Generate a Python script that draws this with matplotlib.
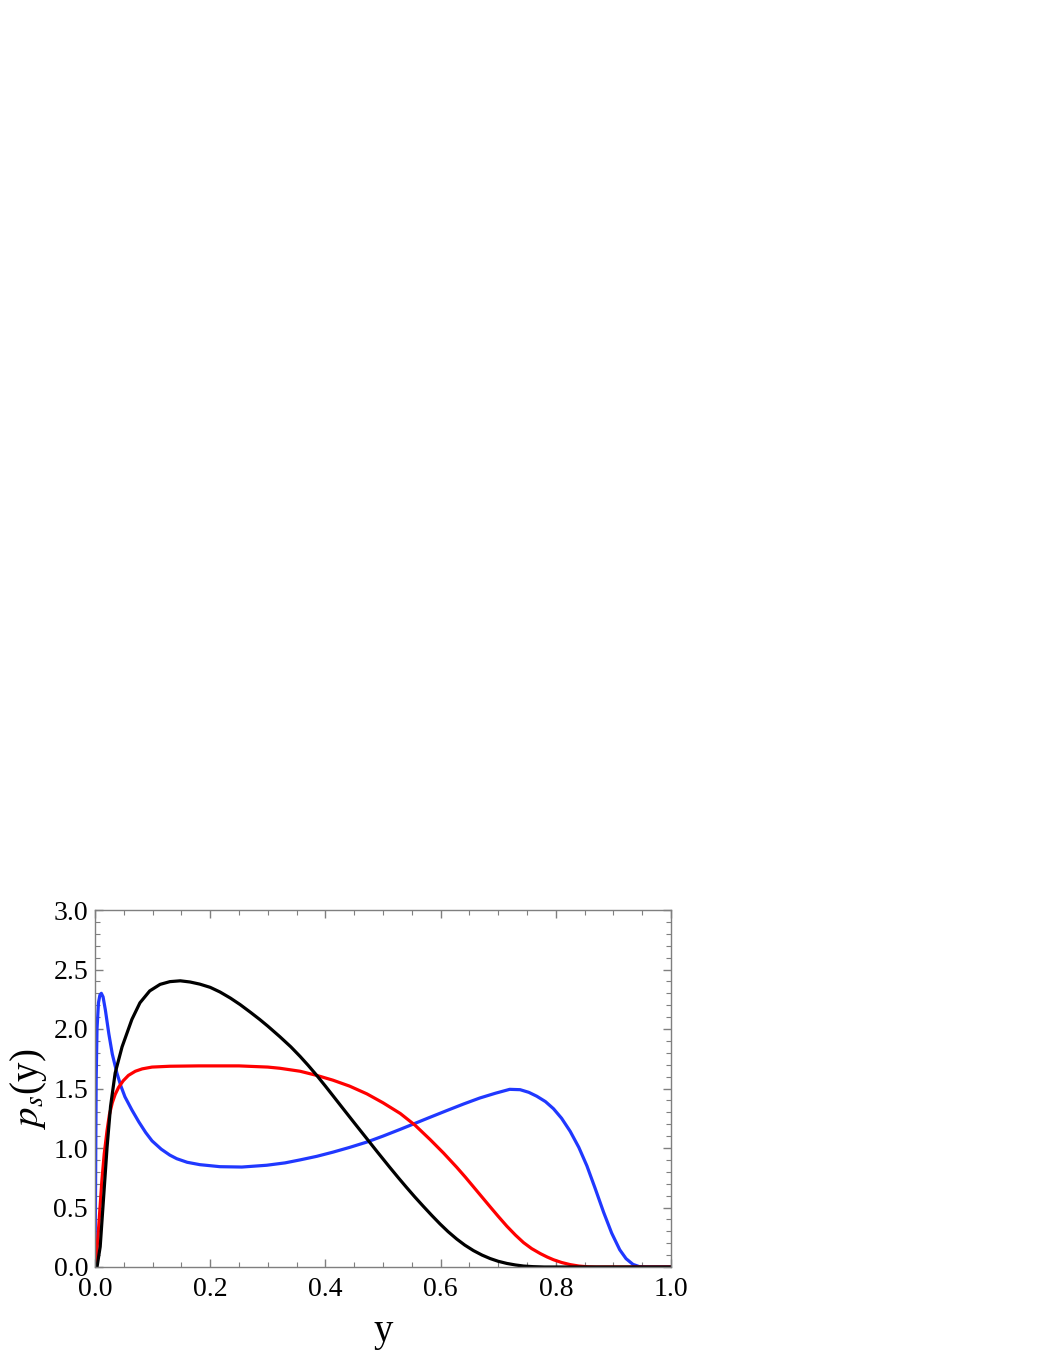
import matplotlib
matplotlib.use("Agg")
import matplotlib.pyplot as plt
from matplotlib.ticker import MultipleLocator

plt.rcParams['font.family'] = ['Liberation Serif', 'DejaVu Serif']
plt.rcParams['mathtext.fontset'] = 'stix'

# Black curve
x_black = [0.0, 0.0035, 0.009, 0.015, 0.021, 0.027, 0.035, 0.047, 0.064, 0.078, 0.095,
           0.113, 0.13, 0.148, 0.165, 0.182, 0.20, 0.217, 0.235, 0.252, 0.27, 0.286,
           0.30, 0.321, 0.34, 0.356, 0.37, 0.385, 0.40, 0.413, 0.43, 0.45, 0.472,
           0.49, 0.512, 0.527, 0.541, 0.555, 0.570, 0.585, 0.599, 0.613, 0.628,
           0.642, 0.657, 0.672, 0.686, 0.70, 0.715, 0.73, 0.744, 0.76, 0.78, 1.0]
v_black = [0.0, 0.0, 0.17, 0.59, 1.01, 1.35, 1.63, 1.85, 2.08, 2.22, 2.32,
           2.375, 2.398, 2.405, 2.395, 2.377, 2.35, 2.311, 2.26, 2.205, 2.14, 2.08,
           2.024, 1.935, 1.85, 1.77, 1.695, 1.61, 1.52, 1.44, 1.335, 1.212, 1.078,
           0.968, 0.836, 0.748, 0.668, 0.59, 0.51, 0.432, 0.362, 0.297, 0.235,
           0.184, 0.138, 0.100, 0.071, 0.048, 0.030, 0.017, 0.008, 0.003, 0.0, 0.0]

# Red curve
x_red = [0.0, 0.001, 0.006, 0.012, 0.016, 0.021, 0.025, 0.030, 0.035, 0.041, 0.049,
         0.058, 0.07, 0.082, 0.099, 0.13, 0.18, 0.25, 0.30, 0.321, 0.356, 0.385,
         0.413, 0.442, 0.472, 0.50, 0.53, 0.556, 0.582, 0.605, 0.628, 0.643, 0.657,
         0.672, 0.686, 0.70, 0.715, 0.73, 0.744, 0.758, 0.773, 0.785, 0.796, 0.81,
         0.825, 0.84, 0.855, 0.87, 1.0]
v_red = [0.0, 0.0, 0.31, 0.73, 0.95, 1.15, 1.28, 1.38, 1.45, 1.51, 1.565,
         1.61, 1.645, 1.665, 1.68, 1.687, 1.69, 1.69, 1.68, 1.67, 1.645, 1.61,
         1.57, 1.52, 1.455, 1.38, 1.29, 1.19, 1.07, 0.958, 0.838, 0.755, 0.674,
         0.587, 0.506, 0.426, 0.343, 0.268, 0.205, 0.155, 0.113, 0.084, 0.061, 0.038,
         0.02, 0.008, 0.002, 0.0, 0.0]

# Blue curve
x_blue = [0.0, 0.0005, 0.001, 0.002, 0.0035, 0.006, 0.0085, 0.011, 0.014, 0.018, 0.024,
          0.030, 0.038, 0.045, 0.052, 0.064, 0.076, 0.088, 0.099, 0.115, 0.13, 0.142,
          0.16, 0.182, 0.217, 0.255, 0.298, 0.33, 0.356, 0.385, 0.413, 0.442, 0.472,
          0.50, 0.53, 0.552, 0.58, 0.611, 0.64, 0.668, 0.695, 0.72, 0.738, 0.753,
          0.767, 0.782, 0.796, 0.81, 0.825, 0.84, 0.854, 0.868, 0.883, 0.897, 0.911,
          0.922, 0.934, 0.945, 0.955, 1.0]
v_blue = [0.0, 0.3, 0.7, 1.57, 2.0, 2.22, 2.285, 2.30, 2.27, 2.16, 1.96,
          1.79, 1.63, 1.52, 1.43, 1.32, 1.22, 1.13, 1.06, 0.99, 0.94, 0.91,
          0.88, 0.86, 0.843, 0.84, 0.855, 0.875, 0.90, 0.93, 0.965, 1.005, 1.05,
          1.10, 1.157, 1.20, 1.255, 1.315, 1.37, 1.42, 1.46, 1.493, 1.49, 1.468,
          1.435, 1.39, 1.33, 1.25, 1.14, 1.005, 0.85, 0.665, 0.46, 0.285, 0.145,
          0.07, 0.022, 0.003, 0.0, 0.0]

x_ticks = [0.0, 0.2, 0.4, 0.6, 0.8, 1.0]
y_ticks = [0.0, 0.5, 1.0, 1.5, 2.0, 2.5, 3.0]

fig = plt.figure(figsize=(10.54, 13.64), dpi=100)
ax = fig.add_axes([95/1054, 1 - 1267/1364, 576/1054, 357/1364])

ax.plot(x_blue, v_blue, color='#2038ff', lw=2.3, solid_joinstyle='round')
ax.plot(x_red, v_red, color='#ff0000', lw=2.3, solid_joinstyle='round')
ax.plot(x_black, v_black, color='#000000', lw=2.3, solid_joinstyle='round')

ax.set_xlim(0, 1)
ax.set_ylim(0, 3)
ax.set_xticks(x_ticks)
ax.set_yticks(y_ticks)
ax.set_xticklabels([f"{t:.1f}" for t in x_ticks])
ax.set_yticklabels([f"{t:.1f}" for t in y_ticks])
ax.xaxis.set_minor_locator(MultipleLocator(0.05))
ax.yaxis.set_minor_locator(MultipleLocator(0.1))

gray = '#7f7f7f'
for s in ax.spines.values():
    s.set_color(gray)
    s.set_linewidth(1.0)
ax.tick_params(which='both', direction='in', top=True, right=True, color=gray,
               labelsize=20, labelcolor='black')
ax.tick_params(which='major', length=6, width=1.0)
ax.tick_params(axis='x', which='major', pad=7)
ax.tick_params(axis='y', which='major', pad=5)
ax.tick_params(which='minor', length=3.5, width=0.8)

ax.set_xlabel('y', fontsize=28, labelpad=8)
ax.set_ylabel(r'$p_s$(y)', fontsize=28, labelpad=3)

fig.savefig('out.png', dpi=100)
